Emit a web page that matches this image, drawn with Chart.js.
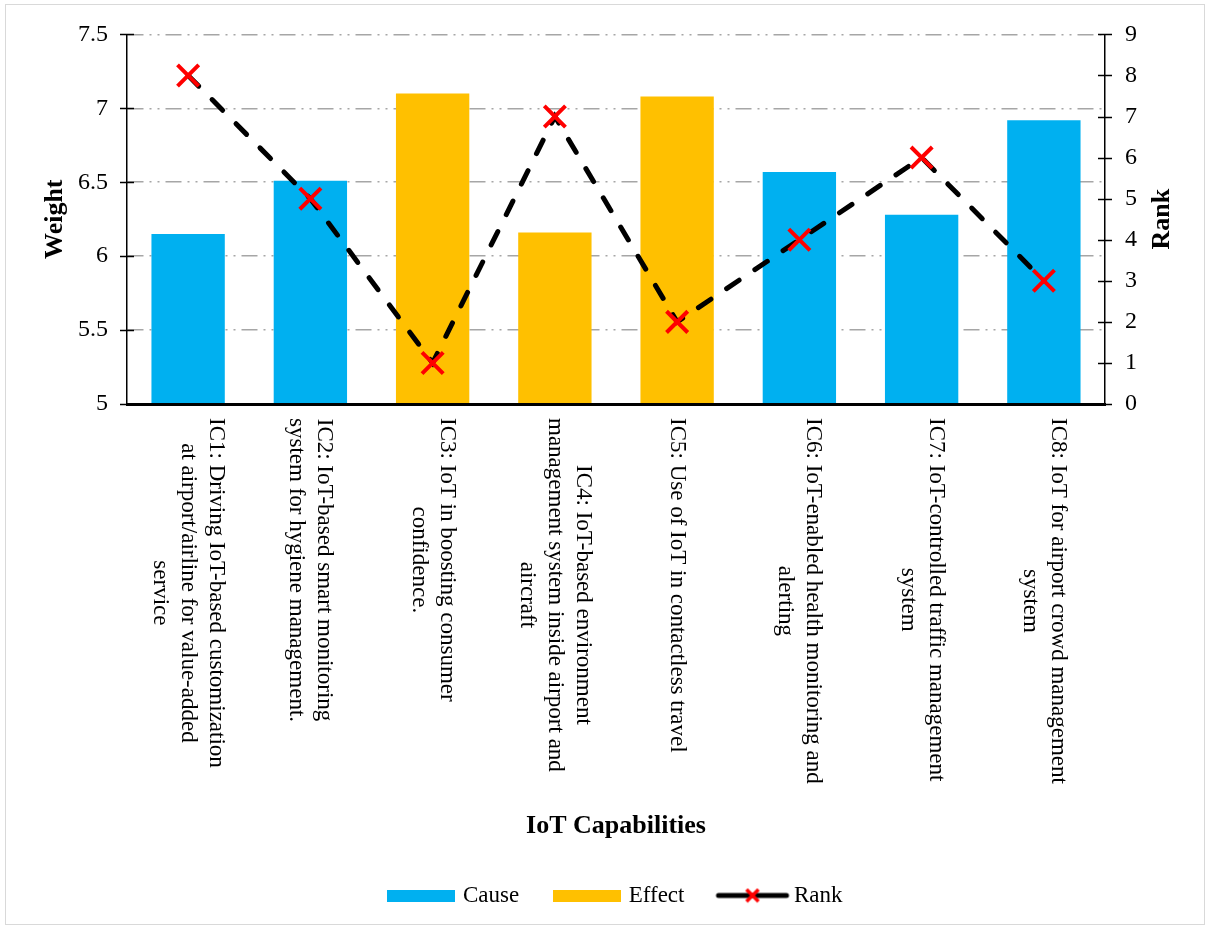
<!DOCTYPE html>
<html><head><meta charset="utf-8">
<script src="https://cdn.jsdelivr.net/npm/chart.js@4.4.1/dist/chart.umd.min.js"></script>
<style>
html,body{margin:0;padding:0;background:#fff;}
#frame{position:absolute;left:5px;top:4px;width:1200px;height:921px;box-sizing:border-box;border:1px solid #D9D9D9;}
#c{position:absolute;left:0;top:0;}
</style></head><body>
<div id="frame"></div>
<canvas id="c" width="1214" height="928"></canvas>
<script>
// ---- data ----
const categories = [
  ["IC1: Driving IoT-based customization", "at airport/airline for value-added", "service"],
  ["IC2: IoT-based smart monitoring", "system for hygiene management."],
  ["IC3: IoT in boosting consumer", "confidence."],
  ["IC4: IoT-based environment", "management system inside airport and", "aircraft"],
  ["IC5: Use of IoT in contactless travel"],
  ["IC6: IoT-enabled health monitoring and", "alerting"],
  ["IC7: IoT-controlled traffic management", "system"],
  ["IC8: IoT for airport crowd management", "system"]
];
const causeWeights  = [6.15, 6.51, null, null, null, 6.57, 6.28, 6.92];
const effectWeights = [null, null, 7.10, 6.16, 7.08, null, null, null];
const ranks = [8, 5, 1, 7, 2, 4, 6, 3];
const weightAxis = [5, 7.5, 0.5];   // min, max, step
const rankAxis = [0, 9, 1];         // min, max, step
const seriesNames = ["Cause", "Effect", "Rank"];
const xTitle = "IoT Capabilities";
const yTitle = "Weight";
const y1Title = "Rank";

// ---- styling ----
const SERIF = '"Liberation Serif", "Times New Roman", serif';
const BLUE = '#00B0F0', GOLD = '#FFC000';

function mkBox(color){
  const c = document.createElement('canvas'); c.width = 68; c.height = 12;
  const g = c.getContext('2d'); g.fillStyle = color; g.fillRect(0,0,68,12); return c;
}
function mkRank(){
  const c = document.createElement('canvas'); c.width = 76; c.height = 16;
  const g = c.getContext('2d');
  g.strokeStyle = '#000'; g.lineWidth = 5; g.lineCap = 'round';
  g.beginPath(); g.moveTo(4,8); g.lineTo(72,8); g.stroke();
  g.strokeStyle = '#FF0000'; g.lineWidth = 3.5; g.lineCap = 'butt';
  g.beginPath(); g.moveTo(32,2); g.lineTo(44,14); g.moveTo(44,2); g.lineTo(32,14); g.stroke();
  return c;
}
const legendImgs = [mkBox(BLUE), mkBox(GOLD), mkRank()];
const fmt = v => String(Number(v));

const tickCross = {
  id: 'tickCross',
  afterDraw(chart){
    const {ctx, chartArea, scales} = chart;
    ctx.save();
    ctx.strokeStyle = '#000'; ctx.lineWidth = 1.5;
    [[scales.y, chartArea.left], [scales.y1, chartArea.right]].forEach(([s, ax]) => {
      s.ticks.forEach(t => {
        const y = Math.round(s.getPixelForValue(t.value)) + 0.5;
        ctx.beginPath(); ctx.moveTo(ax - 7, y); ctx.lineTo(ax + 7, y); ctx.stroke();
      });
    });
    // category labels, rotated clockwise
    const x = scales.x;
    ctx.fillStyle = '#000';
    ctx.font = '23px ' + SERIF;
    ctx.textAlign = 'center'; ctx.textBaseline = 'middle';
    const lh = 28;
    categories.forEach((lines, i) => {
      const cx = x.getPixelForValue(i);
      const maxW = Math.max(...lines.map(l => ctx.measureText(l).width));
      ctx.save();
      ctx.translate(cx, chartArea.bottom + 14 + maxW / 2);
      ctx.rotate(Math.PI / 2);
      lines.forEach((ln, k) => ctx.fillText(ln, 0, (k - (lines.length - 1) / 2) * lh));
      ctx.restore();
    });
    // right axis title, reading bottom-to-top
    ctx.font = 'bold 26px ' + SERIF;
    ctx.save();
    ctx.translate(1162, (chartArea.top + chartArea.bottom) / 2);
    ctx.rotate(-Math.PI / 2);
    ctx.fillText(y1Title, 0, 0);
    ctx.restore();
    ctx.restore();
  }
};

new Chart(document.getElementById('c'), {
  data: {
    labels: categories.map(c => c.join(' ')),
    datasets: [
      { type: 'line', label: seriesNames[2], data: ranks, yAxisID: 'y1', order: 1,
        borderColor: '#000', borderWidth: 5, borderDash: [15, 19], borderCapStyle: 'round',
        fill: false, tension: 0,
        pointStyle: 'crossRot', pointRadius: 15, pointHoverRadius: 15,
        pointBorderColor: '#FF0000', pointBackgroundColor: '#FF0000', pointBorderWidth: 4 },
      { type: 'bar', label: seriesNames[0], data: causeWeights, yAxisID: 'y', order: 2,
        backgroundColor: BLUE, grouped: false, barPercentage: 0.6, categoryPercentage: 1, base: weightAxis[0] },
      { type: 'bar', label: seriesNames[1], data: effectWeights, yAxisID: 'y', order: 2,
        backgroundColor: GOLD, grouped: false, barPercentage: 0.6, categoryPercentage: 1, base: weightAxis[0] }
    ]
  },
  options: {
    responsive: false, animation: false, devicePixelRatio: 1,
    layout: { padding: { top: 33, left: 20, right: 0, bottom: 11 } },
    plugins: {
      tooltip: { enabled: false },
      legend: {
        position: 'bottom',
        labels: {
          usePointStyle: true, pointStyleWidth: 60, padding: 38, color: '#000',
          font: { family: SERIF, size: 23 },
          generateLabels: () => seriesNames.map((n, i) => ({
            text: n, pointStyle: legendImgs[i], fillStyle: '#fff', strokeStyle: '#fff',
            lineWidth: 0, hidden: false, datasetIndex: i, fontColor: '#000'
          }))
        }
      }
    },
    scales: {
      x: {
        type: 'category', position: 'bottom',
        grid: { display: false, drawTicks: false },
        border: { display: true, color: '#000', width: 3, z: 1 },
        ticks: { display: false },
        title: { display: true, text: xTitle, color: '#000', font: { family: SERIF, size: 26, weight: 'bold' }, padding: { top: 0, bottom: 4 } },
        afterFit: s => { s.height = 442; }
      },
      y: {
        type: 'linear', position: 'left', min: weightAxis[0], max: weightAxis[1],
        ticks: { stepSize: weightAxis[2], color: '#000', padding: 19, font: { family: SERIF, size: 24 }, callback: fmt },
        grid: { color: '#A6A6A6', lineWidth: 1.5, drawTicks: false },
        border: { display: true, color: '#000', width: 1.5, dash: [16, 6, 2, 6, 2, 6] },
        title: { display: true, text: yTitle, color: '#000', font: { family: SERIF, size: 26, weight: 'bold' }, padding: { top: 20, bottom: 0 } },
        afterFit: s => { s.width = 107; }
      },
      y1: {
        type: 'linear', position: 'right', min: rankAxis[0], max: rankAxis[1],
        ticks: { stepSize: rankAxis[2], color: '#000', padding: 20, font: { family: SERIF, size: 24 }, callback: fmt },
        grid: { drawOnChartArea: false, drawTicks: false },
        border: { display: true, color: '#000', width: 1.5 },
        title: { display: false },
        afterFit: s => { s.width = 109; }
      }
    }
  },
  plugins: [tickCross]
});
</script>
</body></html>
